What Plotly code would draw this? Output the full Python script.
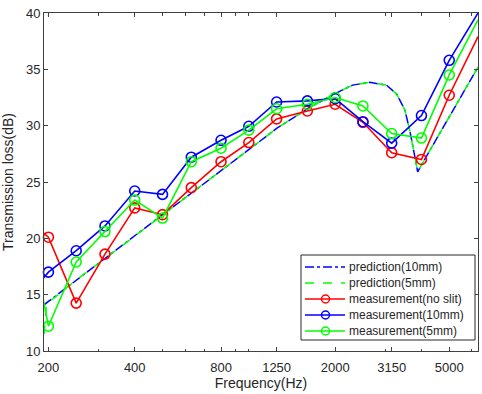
import plotly.graph_objects as go

# ---- data ----
freq_meas = [160, 200, 250, 315, 400, 500, 630, 800, 1000, 1250, 1600, 2000, 2500, 3150, 4000, 5000, 6300]
tl_no_slit = [22.2, 20.1, 14.25, 18.6, 22.7, 22.1, 24.5, 26.8, 28.5, 30.6, 31.3, 31.9, 30.3, 27.6, 27.0, 32.7, 37.9]
tl_10mm = [14.0, 17.0, 18.9, 21.1, 24.2, 23.9, 27.2, 28.7, 29.95, 32.1, 32.2, 32.4, 30.35, 28.45, 30.9, 35.8, 40.0]
tl_5mm = [25.0, 12.2, 17.9, 20.6, 23.4, 21.8, 26.8, 28.0, 29.6, 31.5, 31.9, 32.5, 31.75, 29.3, 28.9, 34.5, 39.4]

freq_pred10 = [193, 200, 250, 315, 400, 500, 630, 800, 1000, 1250, 1600, 1800, 2000, 2300, 2640,
               3020, 3280, 3500, 3640, 3790, 3880, 4040, 4630, 5400, 6300]
pred_10mm = [14.1, 14.4, 16.3, 18.2, 20.2, 22.1, 24.0, 26.0, 27.9, 29.75, 31.5, 32.2, 32.85, 33.6, 33.85,
             33.6, 32.8, 31.4, 29.6, 27.3, 25.9, 26.7, 29.3, 32.3, 35.2]
freq_pred5 = [193, 195, 197, 200, 250, 315, 400, 500, 630, 800, 1000, 1250, 1600, 1800, 2000, 2300, 2640,
              3020, 3280, 3500, 3640, 3790, 3880, 4040, 4630, 5400, 6300]
pred_5mm = [11.5, 13.0, 14.1, 14.3, 16.3, 18.2, 20.2, 22.1, 24.0, 26.0, 27.9, 29.75, 31.5, 32.2, 32.85, 33.6, 33.85,
            33.6, 32.8, 31.4, 29.6, 27.3, 25.9, 26.7, 29.3, 32.3, 35.2]

x_major = [200, 400, 800, 1250, 2000, 3150, 5000]
x_major_text = ["200", "400", "800", "1250", "2000", "3150", "5000"]
x_minor = [300, 500, 600, 700, 900, 1000, 3000, 4000, 6000]

series_names = ["prediction(10mm)", "prediction(5mm)", "measurement(no slit)",
                "measurement(10mm)", "measurement(5mm)"]

# ---- figure geometry (body margin removed by post_script below) ----
W, H = 482, 394
ML, MR, MT, MB = 44, 4, 13, 43
PW, PH = W - ML - MR, H - MT - MB

fig = go.Figure()
fig.add_trace(go.Scatter(x=freq_pred10, y=pred_10mm, mode="lines", name=series_names[0],
                         line=dict(color="#0000FF", width=1.5, dash="dashdot")))
fig.add_trace(go.Scatter(x=freq_pred5, y=pred_5mm, mode="lines", name=series_names[1],
                         line=dict(color="#00FF00", width=1.5, dash="dash")))

opac = [0] + [1] * (len(freq_meas) - 1)
meas = [(series_names[2], tl_no_slit, "#FF0000"),
        (series_names[3], tl_10mm, "#0000FF"),
        (series_names[4], tl_5mm, "#00FF00")]
for name, vals, col in meas:
    fig.add_trace(go.Scatter(x=freq_meas, y=vals, mode="lines+markers", name=name,
                             line=dict(color=col, width=1.6),
                             marker=dict(symbol="circle-open", size=10, opacity=opac,
                                         line=dict(color=col, width=1.6)),
                             cliponaxis=False))

# ---- hand-drawn legend (MATLAB style, compact rows); pixel positions ----
def px(xp):
    return (xp - ML) / PW

def py(yp):
    return (H - MB - yp) / PH

shapes = [dict(type="rect", xref="paper", yref="paper", x0=px(301), x1=px(475), y0=py(340), y1=py(255),
               line=dict(color="#262626", width=1), fillcolor="white", layer="above")]
annots = []
leg_styles = [("#0000FF", "dashdot", False), ("#00FF00", "dash", False),
              ("#FF0000", "solid", True), ("#0000FF", "solid", True), ("#00FF00", "solid", True)]
row_y = [267, 283, 299, 315, 331]
for (col, dash, mk), name, ry in zip(leg_styles, series_names, row_y):
    shapes.append(dict(type="line", xref="paper", yref="paper", x0=px(305), x1=px(345),
                       y0=py(ry), y1=py(ry), line=dict(color=col, width=1.6, dash=dash), layer="above"))
    if mk:
        shapes.append(dict(type="circle", xref="paper", yref="paper", x0=px(321.5), x1=px(329.5),
                           y0=py(ry + 4), y1=py(ry - 4), line=dict(color=col, width=1.5),
                           fillcolor="rgba(0,0,0,0)", layer="above"))
    annots.append(dict(text=name, xref="paper", yref="paper", x=px(347), y=py(ry), xanchor="left",
                       yanchor="middle", showarrow=False, font=dict(size=12, color="#262626")))

axis_col = "#404040"
fig.update_layout(
    width=W, height=H,
    margin=dict(l=ML, r=MR, t=MT, b=MB, autoexpand=False),
    paper_bgcolor="white", plot_bgcolor="white",
    font=dict(family="Liberation Sans, Arial, sans-serif", size=13, color="#262626"),
    showlegend=False,
    shapes=shapes, annotations=annots,
)
fig.update_xaxes(type="log", range=[2.2856, 3.7993], automargin=False, ticklabeloverflow="allow",
                 tickmode="array", tickvals=x_major, ticktext=x_major_text,
                 ticks="inside", ticklen=4, tickcolor=axis_col, ticklabelstandoff=4,
                 minor=dict(tickmode="array", tickvals=x_minor, ticks="inside", ticklen=2.5, tickcolor=axis_col),
                 showline=True, linecolor=axis_col, linewidth=1, mirror="allticks",
                 showgrid=False, zeroline=False,
                 title=dict(text="Frequency(Hz)", font=dict(size=14), standoff=4))
fig.update_yaxes(range=[10, 40], tickmode="linear", tick0=10, dtick=5, automargin=False,
                 ticklabeloverflow="allow",
                 ticks="inside", ticklen=4, tickcolor=axis_col,
                 showline=True, linecolor=axis_col, linewidth=1, mirror="allticks",
                 showgrid=False, zeroline=False,
                 title=dict(text="Transmission loss(dB)", font=dict(size=14), standoff=11))

fig.write_html("out.html", config={"displayModeBar": False},
               post_script="document.body.style.margin='0';document.body.style.overflow='hidden';")
